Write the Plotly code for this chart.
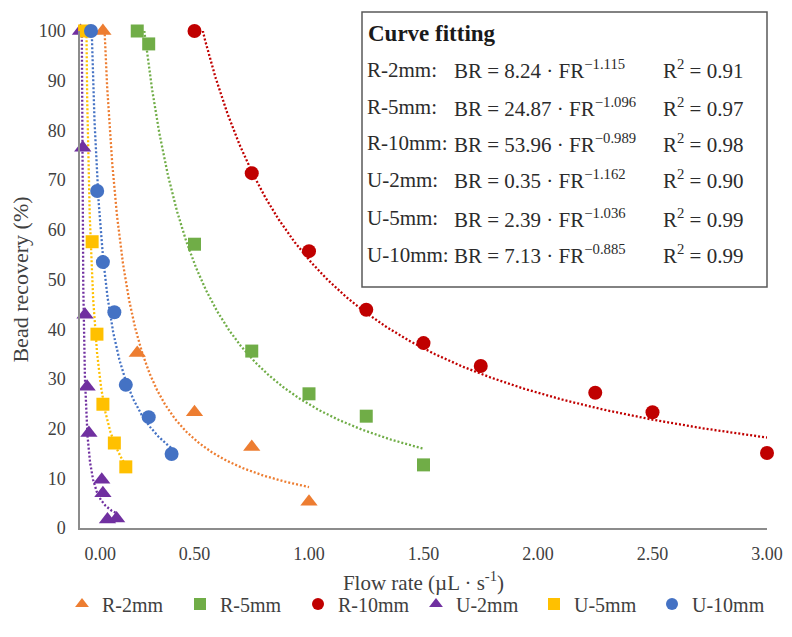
import numpy as np
import plotly.graph_objects as go

# ---- data ----
names = ["R-2mm", "R-5mm", "R-10mm", "U-2mm", "U-5mm", "U-10mm"]

r2_fr = [0.10, 0.25, 0.50, 0.75, 1.00]
r2_br = [100, 35.2, 23.3, 16.3, 5.3]

r5_fr = [0.25, 0.30, 0.50, 0.75, 1.00, 1.25, 1.50]
r5_br = [100, 97.4, 57.1, 35.6, 27.0, 22.5, 12.7]

r10_fr = [0.50, 0.75, 1.00, 1.25, 1.50, 1.75, 2.25, 2.50, 3.00]
r10_br = [100, 71.4, 55.7, 43.9, 37.2, 32.6, 27.2, 23.3, 15.1]

u2_fr = [0.002, 0.012, 0.022, 0.031, 0.039, 0.095, 0.10, 0.12, 0.16]
u2_br = [100, 76.5, 42.9, 28.4, 19.1, 9.7, 7.0, 1.7, 1.9]

u5_fr = [0.02, 0.053, 0.074, 0.10, 0.15, 0.20]
u5_br = [100, 57.6, 39.0, 24.9, 17.1, 12.3]

u10_fr = [0.048, 0.075, 0.10, 0.15, 0.20, 0.30, 0.40]
u10_br = [100, 67.8, 53.5, 43.4, 28.8, 22.3, 14.9]

# power-law fits shown in the chart: BR = a * FR^b
fit_a = [8.24, 24.87, 53.96, 0.35, 2.39, 7.13]
fit_b = [-1.115, -1.096, -0.989, -1.162, -1.036, -0.885]
fit_r2 = ["0.91", "0.97", "0.98", "0.90", "0.99", "0.99"]

x_ticks = [0, 0.5, 1.0, 1.5, 2.0, 2.5, 3.0]
x_ticklabels = ["0.00", "0.50", "1.00", "1.50", "2.00", "2.50", "3.00"]
y_ticks = list(range(0, 101, 10))

# ---- styles ----
colors = ["#ED7D31", "#70AD47", "#C00000", "#7030A0", "#FFC000", "#4472C4"]
symbols = ["triangle-up", "square", "circle", "triangle-up", "square", "circle"]
sizes = [15, 13, 14, 15, 13, 14]
FONT = "Liberation Serif"
TXT = "#404040"
BOX_TXT = "#2b2b2b"

series_fr = [r2_fr, r5_fr, r10_fr, u2_fr, u5_fr, u10_fr]
series_br = [r2_br, r5_br, r10_br, u2_br, u5_br, u10_br]

fig = go.Figure()

# trendlines first (markers drawn over them)
for i in range(6):
    xs = np.geomspace(min(series_fr[i]), max(series_fr[i]), 400)
    ys = fit_a[i] * xs ** fit_b[i]
    fig.add_trace(go.Scatter(
        x=xs, y=ys, mode="lines", showlegend=False, hoverinfo="skip",
        line=dict(color=colors[i], width=2.3, dash="2px,2px"),
    ))

for i in range(6):
    fig.add_trace(go.Scatter(
        x=series_fr[i], y=series_br[i], mode="markers", name=names[i],
        cliponaxis=False,
        marker=dict(color=colors[i], symbol=symbols[i], size=sizes[i],
                    line=dict(width=0)),
    ))

# ---- layout geometry (screen pixels; page body has an 8px offset) ----
OFF = 8
FIG_W, FIG_H = 792 - 2 * OFF, 637 - 2 * OFF
L, R, T, B = 80, 767, 31, 528
W, H = R - L, B - T
def px(x):
    return (x - L) / W
def py(y):
    return (B - y) / H

annotations = []
annotations.append(dict(x=px(366), y=py(33), xref="paper", yref="paper",
                        xanchor="left", yanchor="middle", showarrow=False,
                        text="<b>Curve fitting</b>",
                        font=dict(family=FONT, size=23, color="#1a1a1a")))
row_y = [70, 107, 143, 180, 218, 255]
for i in range(6):
    annotations.append(dict(x=px(365), y=py(row_y[i]), xref="paper", yref="paper",
                            xanchor="left", yanchor="middle", showarrow=False,
                            text=names[i] + ":",
                            font=dict(family=FONT, size=21, color=BOX_TXT)))
    eq = "BR = %.2f · FR<sup>−%.3f</sup>" % (fit_a[i], -fit_b[i])
    annotations.append(dict(x=px(452), y=py(row_y[i]), xref="paper", yref="paper",
                            xanchor="left", yanchor="middle", showarrow=False,
                            text=eq, font=dict(family=FONT, size=21, color=BOX_TXT)))
    annotations.append(dict(x=px(661), y=py(row_y[i]), xref="paper", yref="paper",
                            xanchor="left", yanchor="middle", showarrow=False,
                            text="R<sup>2</sup> = " + fit_r2[i],
                            font=dict(family=FONT, size=21, color=BOX_TXT)))

shapes = [dict(type="rect", xref="paper", yref="paper",
               x0=px(362), x1=px(767), y0=py(287), y1=py(12),
               line=dict(color="#595959", width=1.5), fillcolor="rgba(0,0,0,0)")]

x_ticktext = ["\u00a0" * 9 + x_ticklabels[0]] + x_ticklabels[1:]

fig.update_layout(
    width=FIG_W, height=FIG_H,
    margin=dict(l=L - OFF, r=FIG_W - (R - OFF), t=T - OFF, b=FIG_H - (B - OFF),
                autoexpand=False),
    paper_bgcolor="white", plot_bgcolor="white",
    font=dict(family=FONT, size=18, color=TXT),
    showlegend=True,
    legend=dict(orientation="h", x=px(62), xanchor="left", y=py(604), yanchor="middle",
                font=dict(family=FONT, size=20, color=TXT),
                itemsizing="constant", entrywidth=73, entrywidthmode="pixels",
                bgcolor="rgba(0,0,0,0)"),
    annotations=annotations,
    shapes=shapes,
    xaxis=dict(range=[0, 3], tickvals=x_ticks, ticktext=x_ticktext,
               showgrid=False, zeroline=False, showline=True, automargin=False,
               linecolor="#8c8c8c", linewidth=1.5, ticks="",
               ticklabelstandoff=9,
               tickfont=dict(family=FONT, size=18, color=TXT),
               title=dict(text="Flow rate (µL · s<sup>-1</sup>)", standoff=12,
                          font=dict(family=FONT, size=21, color=TXT))),
    yaxis=dict(range=[0, 100], tickvals=y_ticks,
               showgrid=False, zeroline=False, showline=True, automargin=False,
               linecolor="#8c8c8c", linewidth=1.5, ticks="",
               ticklabelstandoff=9,
               tickfont=dict(family=FONT, size=18, color=TXT),
               title=dict(text="Bead recovery (%)", standoff=6,
                          font=dict(family=FONT, size=22, color=TXT))),
)

fig.write_html("out.html")
